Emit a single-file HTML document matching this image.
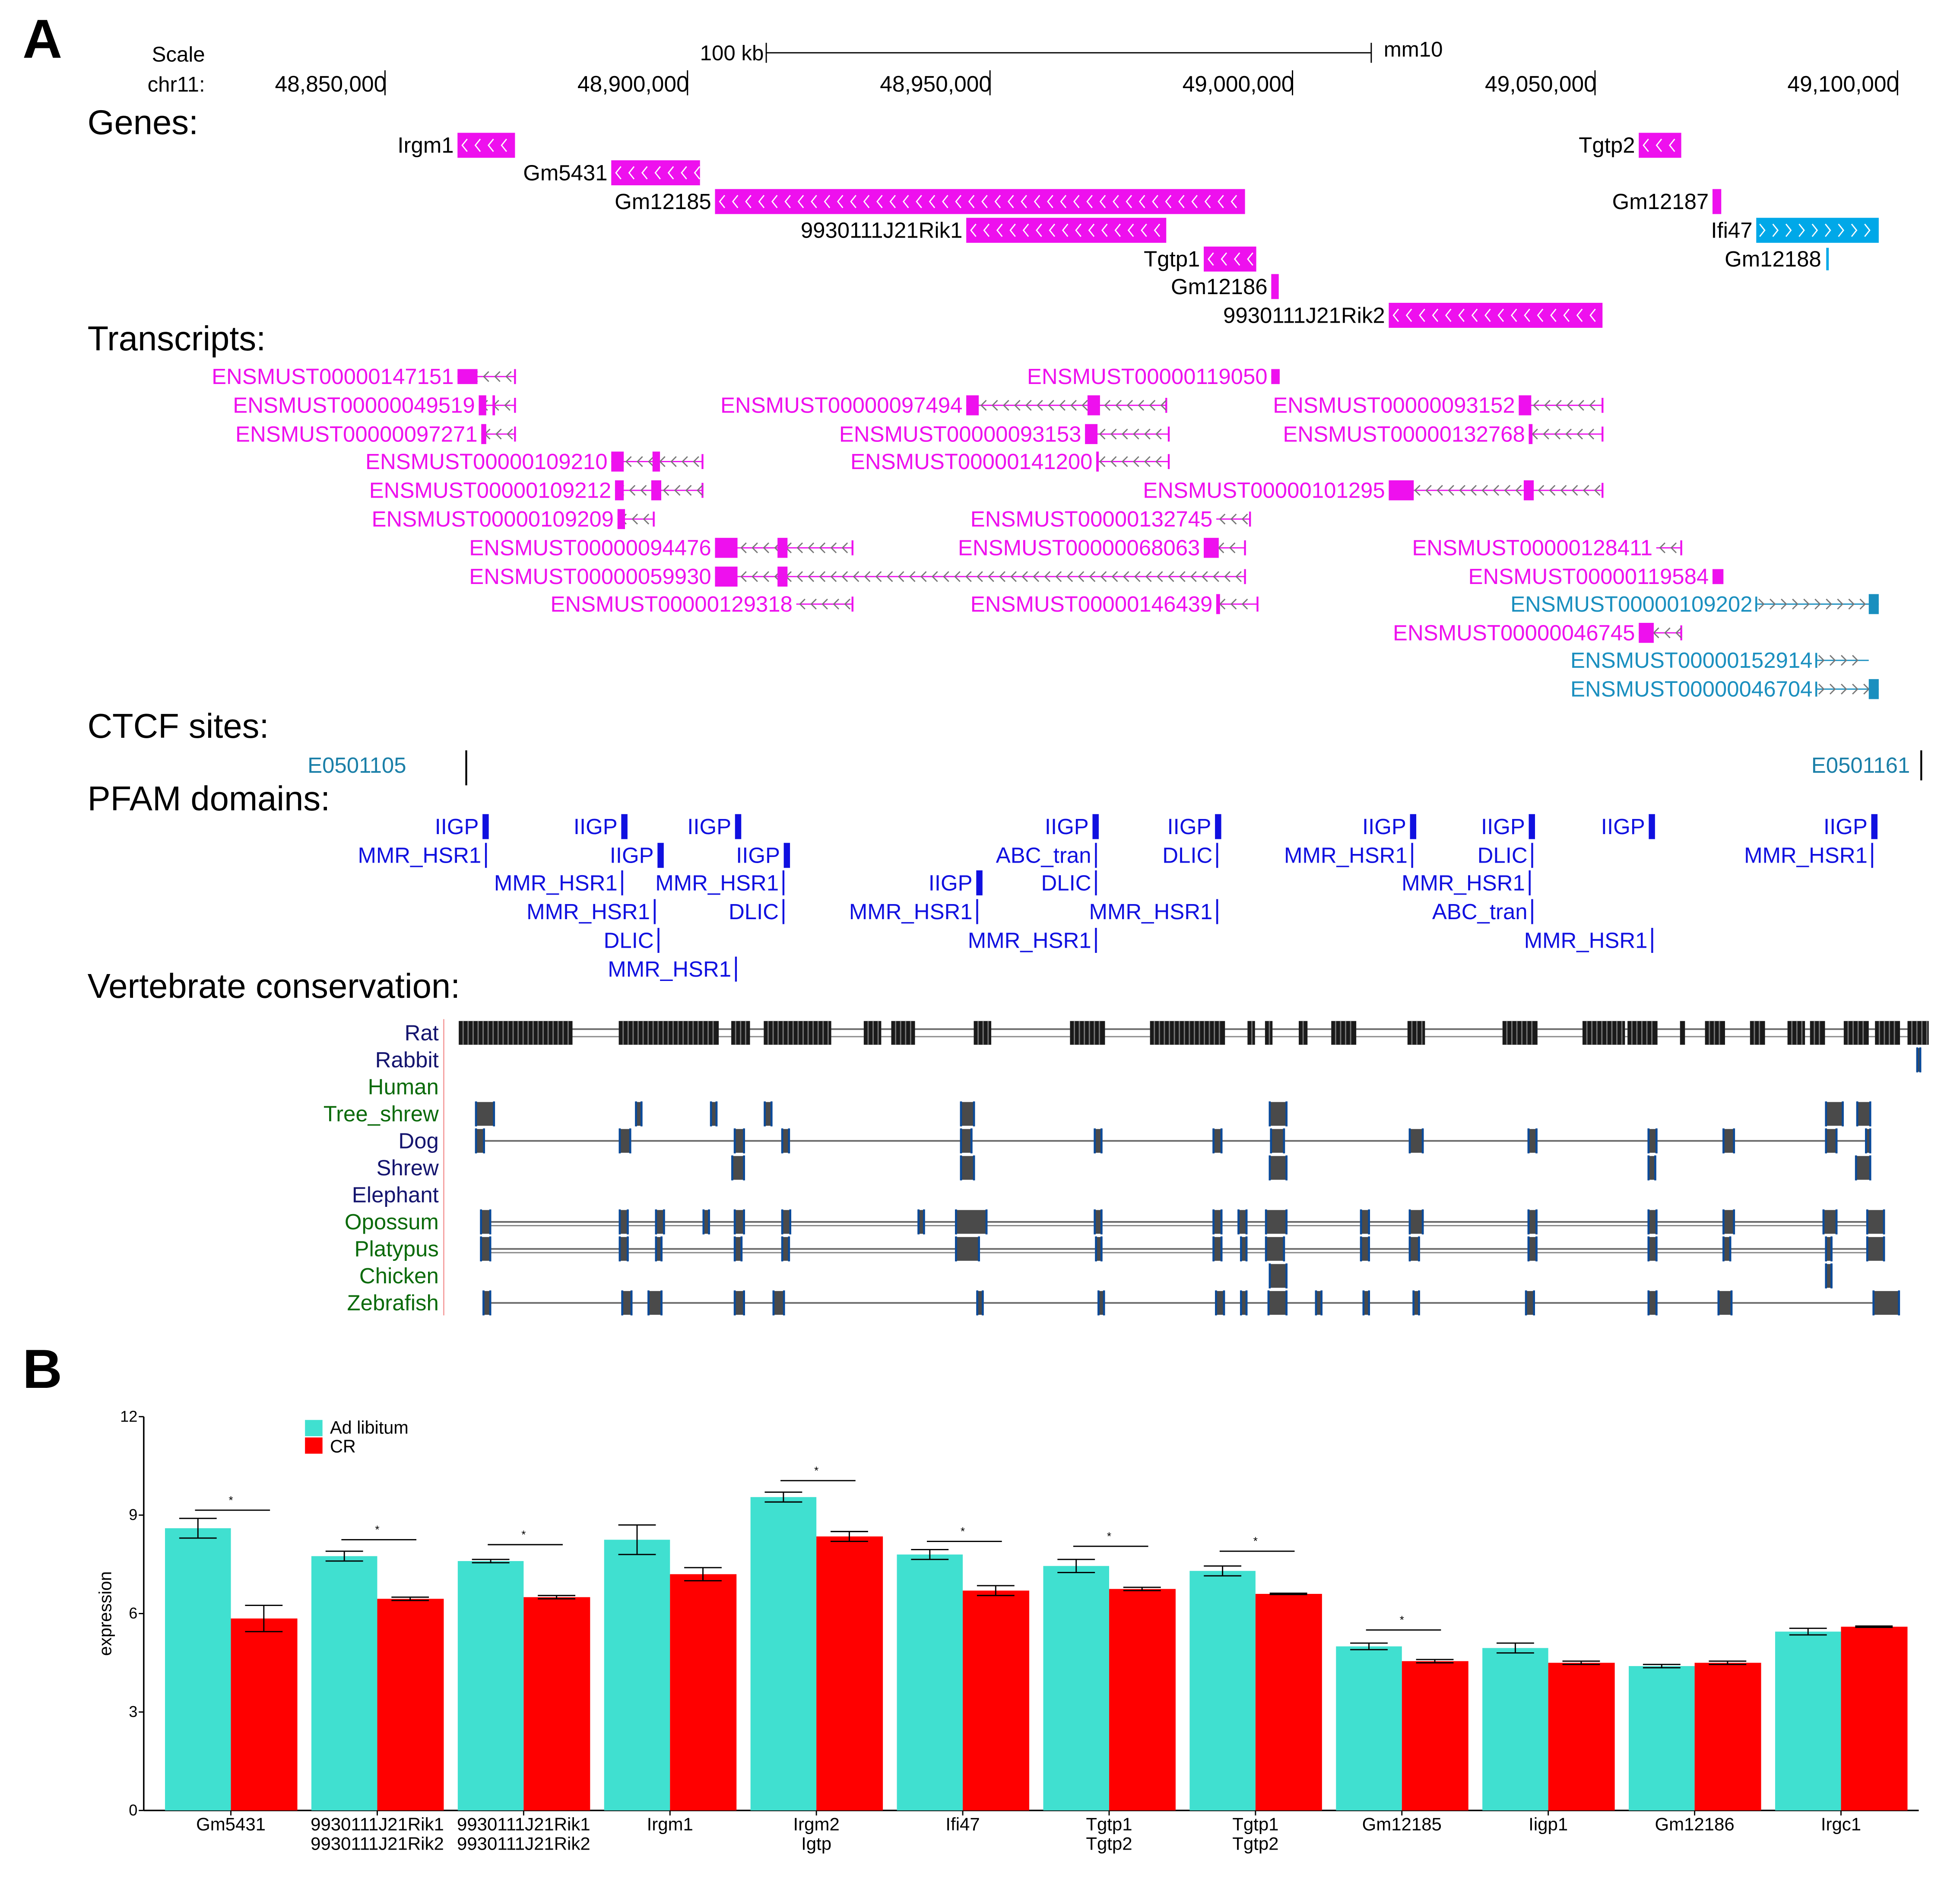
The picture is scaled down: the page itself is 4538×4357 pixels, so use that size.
<!DOCTYPE html>
<html><head><meta charset="utf-8"><style>
html,body{margin:0;padding:0;background:#fff}
svg{display:block}
text{font-family:"Liberation Sans",Arial,sans-serif}
</style></head><body>
<svg id="s" width="4538" height="4357" viewBox="0 0 1568 1505" xmlns="http://www.w3.org/2000/svg">
<rect width="1568" height="1505" fill="#fff"/>
<text x="18" y="46" font-size="44" font-weight="bold">A</text>
<text x="18" y="1110" font-size="44" font-weight="bold">B</text>
<text x="164" y="49" font-size="17" text-anchor="end">Scale</text>
<text x="164" y="73" font-size="17" text-anchor="end">chr11:</text>
<g>
<text x="611" y="48" font-size="17" text-anchor="end">100 kb</text>
<line x1="613" y1="42" x2="1097" y2="42" stroke="#000"/>
<line x1="613" y1="34" x2="613" y2="50" stroke="#000"/>
<line x1="1097" y1="34" x2="1097" y2="50" stroke="#000"/>
<text x="1107" y="45" font-size="17">mm10</text>
</g>
<g id="coord"></g>
<text x="70" y="107" font-size="27.5">Genes:</text>
<text x="70" y="280" font-size="27.5">Transcripts:</text>
<text x="70" y="590" font-size="27.5">CTCF sites:</text>
<text x="70" y="648" font-size="27.5">PFAM domains:</text>
<text x="70" y="798" font-size="27.5">Vertebrate conservation:</text>
<g id="genes"></g>
<g id="tx"></g>
<g>
<text x="325" y="618" font-size="17.6" fill="#1a7fa8" text-anchor="end">E0501105</text>
<line x1="373" y1="600" x2="373" y2="628" stroke="#000" stroke-width="1.5"/>
<text x="1528" y="618" font-size="17.6" fill="#1a7fa8" text-anchor="end">E0501161</text>
<line x1="1537" y1="600" x2="1537" y2="624" stroke="#000" stroke-width="1.5"/>
</g>
<g id="pfam"></g>
<g id="cons"></g>
<g id="chart"></g>
</svg>
<script>
const NS='http://www.w3.org/2000/svg';
const FS=17.6;
function mk(parent,tag,attrs,txt){const e=document.createElementNS(NS,tag);for(const k in attrs)e.setAttribute(k,attrs[k]);if(txt!==undefined)e.textContent=txt;parent.appendChild(e);return e;}
const $=id=>document.getElementById(id);
const coordTicks=[48850000,48900000,48950000,49000000,49050000,49100000];
const coordLabels=['48,850,000','48,900,000','48,950,000','49,000,000','49,050,000','49,100,000'];
const gx=p=>308+(p-48850000)*242/50000;
coordTicks.forEach((t,i)=>{const c=$('coord');
const tx=mk(c,'text',{x:gx(t)+1,y:73,'font-size':17.8,'text-anchor':'end'},coordLabels[i]);


mk(c,'line',{x1:gx(t),y1:56,x2:gx(t),y2:76,stroke:'#000'});});
function chev(g,x1,x2,y,dir,col,step,h){for(let x=x1+step/2;x<x2-2;x+=step){const d=dir<0?`M${x+2.5},${y-h} L${x-1.5},${y} L${x+2.5},${y+h}`:`M${x-2.5},${y-h} L${x+1.5},${y} L${x-2.5},${y+h}`;mk(g,'path',{d,fill:'none',stroke:col,'stroke-width':1});}}
const genes=[['Irgm1',366,412,116,-1],['Gm5431',489,560,138,-1],['Gm12185',572,996,161,-1],['9930111J21Rik1',773,933,184,-1],['Tgtp1',963,1005,207,-1],['Gm12186',1017,1023,229,-1],['9930111J21Rik2',1111,1282,252,-1],['Tgtp2',1311,1345,116,-1],['Gm12187',1370,1377,161,-1],['Ifi47',1405,1503,184,1],['Gm12188',1461,1463,207,1]];
genes.forEach(g=>{const G=mk($('genes'),'g',{});


const col=g[4]<0?'#ee10ee':'#00a8e8';
const h=g[0]==='Gm12188'?18:20;
mk(G,'rect',{x:g[1],y:g[3]-h/2,width:g[2]-g[1],height:h,fill:col});
if(g[2]-g[1]>20)chev(G,g[1],g[2],g[3],g[4],'#fff',10.5,5);
mk(G,'text',{x:g[0]==='Gm12188'?1457:g[1]-3,y:g[3]+6,'font-size':FS,'text-anchor':'end'},g[0]);});
const M='#ee10ee',C='#1a8fbf';
const txs=[['ENSMUST00000147151',301,366,412,M,[[366,16,12]]],['ENSMUST00000049519',324,383,412,M,[[383,6,16],[394,2,16]]],['ENSMUST00000097271',347,385,412,M,[[385,4,16]]],
['ENSMUST00000109210',369,489,562,M,[[489,10,16],[522,6,16]]],['ENSMUST00000109212',392,492,562,M,[[492,7,16],[521,8,16]]],['ENSMUST00000109209',415,494,523,M,[[494,6,16]]],
['ENSMUST00000094476',438,572,682,M,[[572,18,16],[622,8,16]]],['ENSMUST00000059930',461,572,996,M,[[572,18,16],[622,8,16]]],['ENSMUST00000129318',483,637,682,M,[]],
['ENSMUST00000119050',301,1017,1023,M,[[1017,6,12]]],['ENSMUST00000097494',324,773,933,M,[[773,10,16],[870,10,16]]],['ENSMUST00000093153',347,868,935,M,[[868,10,16]]],
['ENSMUST00000141200',369,877,935,M,[[877,2,16]]],['ENSMUST00000132745',415,973,1000,M,[]],['ENSMUST00000068063',438,963,996,M,[[963,12,16]]],['ENSMUST00000146439',483,973,1006,M,[[973,3,16]]],
['ENSMUST00000093152',324,1215,1282,M,[[1215,10,16]]],['ENSMUST00000132768',347,1223,1282,M,[[1223,3,16]]],['ENSMUST00000101295',392,1111,1282,M,[[1111,20,16],[1219,8,16]]],
['ENSMUST00000128411',438,1325,1345,M,[]],['ENSMUST00000119584',461,1370,1378,M,[[1370,8,12]]],['ENSMUST00000046745',506,1311,1345,M,[[1311,12,16]]],
['ENSMUST00000109202',483,1405,1503,C,[[1495,8,16]]],['ENSMUST00000152914',528,1453,1495,C,[]],['ENSMUST00000046704',551,1453,1503,C,[[1495,8,16]]]];
txs.forEach(t=>{const G=mk($('tx'),'g',{});


const y=t[1],dir=t[4]===C?1:-1;
mk(G,'line',{x1:t[2],y1:y,x2:t[3],y2:y,stroke:t[4],'stroke-width':1});
mk(G,'line',{x1:dir<0?t[3]:t[2],y1:y-6,x2:dir<0?t[3]:t[2],y2:y+6,stroke:t[4],'stroke-width':1.5});
chev(G,t[2],t[3],y,dir,'#777',9,4);
t[5].forEach(e=>mk(G,'rect',{x:e[0],y:y-e[2]/2,width:e[1],height:e[2],fill:t[4]}));
mk(G,'text',{x:t[2]-3,y:y+6,'font-size':FS,'text-anchor':'end',fill:t[4]},t[0]);});
const pf=[['IIGP',385,661],['IIGP',496,661],['IIGP',587,661],['MMR_HSR1',387,684],['IIGP',525,684],['IIGP',626,684],['MMR_HSR1',496,706],['MMR_HSR1',625,706],['MMR_HSR1',522,729],['DLIC',625,729],['DLIC',525,752],['MMR_HSR1',587,775],
['IIGP',873,661],['IIGP',971,661],['ABC_tran',875,684],['DLIC',972,684],['IIGP',780,706],['DLIC',875,706],['MMR_HSR1',780,729],['MMR_HSR1',972,729],['MMR_HSR1',875,752],
['IIGP',1127,661],['IIGP',1222,661],['IIGP',1318,661],['IIGP',1496,661],['MMR_HSR1',1128,684],['DLIC',1224,684],['MMR_HSR1',1496,684],['MMR_HSR1',1222,706],['ABC_tran',1224,729],['MMR_HSR1',1320,752]];
pf.forEach(p=>{const G=mk($('pfam'),'g',{});


const thick=p[0]==='IIGP';
mk(G,'rect',{x:p[1]+1,y:p[2]-10,width:thick?5:1.5,height:20,fill:'#1010e0'});
mk(G,'text',{x:p[1]-2,y:p[2]+6,'font-size':FS,'text-anchor':'end',fill:'#1010e0'},p[0]);});
const species=['Rat','Rabbit','Human','Tree_shrew','Dog','Shrew','Elephant','Opossum','Platypus','Chicken','Zebrafish'];
const spColor=['#14146e','#14146e','#0a6a0a','#0a6a0a','#14146e','#14146e','#14146e','#0a6a0a','#0a6a0a','#0a6a0a','#0a6a0a'];
const noLine=['Shrew','Chicken','Tree_shrew','Rabbit'];
const blocks={
Rat:[[367,458],[495,575],[585,600],[611,665],[691,705],[713,732],[779,793],[856,884],[920,980],[998,1004],[1012,1018],[1039,1046],[1065,1085],[1126,1140],[1202,1230],[1266,1300],[1302,1326],[1344,1348],[1364,1380],[1400,1412],[1430,1444],[1448,1460],[1475,1495],[1500,1520],[1526,1543]],
Rabbit:[[1533,1537]],Human:[],
Tree_shrew:[[380,396],[508,514],[568,574],[611,618],[768,780],[1015,1030],[1460,1475],[1485,1497]],
Dog:[[380,388],[495,505],[587,596],[625,632],[768,778],[875,882],[970,978],[1016,1028],[1127,1139],[1222,1230],[1318,1326],[1378,1388],[1460,1470],[1492,1497]],
Shrew:[[585,596],[768,780],[1015,1030],[1318,1325],[1484,1497]],Elephant:[],
Opossum:[[384,393],[495,503],[524,532],[562,568],[587,596],[625,633],[734,740],[764,790],[875,882],[970,978],[990,998],[1012,1030],[1088,1096],[1127,1139],[1222,1230],[1318,1326],[1378,1388],[1458,1470],[1493,1508]],
Platypus:[[384,393],[495,503],[524,530],[587,594],[625,632],[764,784],[876,882],[970,978],[992,998],[1012,1028],[1088,1096],[1127,1136],[1222,1230],[1318,1326],[1378,1385],[1460,1466],[1493,1508]],
Chicken:[[1015,1030],[1460,1466]],
Zebrafish:[[386,393],[497,506],[518,530],[587,596],[618,628],[781,787],[878,884],[972,980],[992,998],[1014,1030],[1052,1058],[1090,1096],[1130,1136],[1220,1228],[1318,1326],[1374,1386],[1498,1520]]};
const cy0=826,cdy=21.6;
mk($('cons'),'line',{x1:355,y1:815,x2:355,y2:1052,stroke:'#f4a0a0','stroke-width':1});
species.forEach((sp,i)=>{const G=mk($('cons'),'g',{});


const y=cy0+i*cdy;
mk(G,'text',{x:351,y:y+6,'font-size':FS,'text-anchor':'end',fill:spColor[i]},sp);
const b=blocks[sp];
if(noLine.indexOf(sp)===-1)for(let k=0;k<b.length-1;k++){mk(G,'line',{x1:b[k][1],y1:y-(sp==='Rat'?3:0),x2:b[k+1][0],y2:y-(sp==='Rat'?3:0),stroke:'#666','stroke-width':1.3});
 if(sp==='Rat'||sp==='Opossum'||sp==='Platypus')mk(G,'line',{x1:b[k][1],y1:y+3,x2:b[k+1][0],y2:y+3,stroke:'#888','stroke-width':1});}
b.forEach(bb=>{const w=bb[1]-bb[0];
mk(G,'rect',{x:bb[0],y:y-9.5,width:w,height:19,fill:sp==='Rat'?'#1a1a1a':'#4a4a4a'});
if(sp!=='Rat'){mk(G,'rect',{x:bb[0],y:y-10,width:1.6,height:20,fill:'#0a4a9a'});mk(G,'rect',{x:bb[1]-1.6,y:y-10,width:1.6,height:20,fill:'#0a4a9a'});}
else for(let x=bb[0]+3;x<bb[1]-1;x+=4)mk(G,'rect',{x:x,y:y-9.5,width:1,height:19,fill:'#777'});});});
</script>
<script>
const categories=['Gm5431','9930111J21Rik1|9930111J21Rik2','9930111J21Rik1|9930111J21Rik2','Irgm1','Irgm2|Igtp','Ifi47','Tgtp1|Tgtp2','Tgtp1|Tgtp2','Gm12185','Iigp1','Gm12186','Irgc1'];
const adLib=[8.6,7.75,7.6,8.25,9.55,7.8,7.45,7.3,5.0,4.95,4.4,5.45];
const adLibErr=[0.3,0.15,0.05,0.45,0.15,0.15,0.2,0.15,0.1,0.15,0.05,0.1];
const crVals=[5.85,6.45,6.5,7.2,8.35,6.7,6.75,6.6,4.55,4.5,4.5,5.6];
const crErr=[0.4,0.05,0.05,0.2,0.15,0.15,0.05,0.02,0.05,0.05,0.05,0.02];
const sigLevel=[9.15,8.25,8.1,null,10.05,8.2,8.05,7.9,5.5,null,null,null];
const yTicks=[0,3,6,9,12];
(function(){
const g=document.getElementById('chart');
const y0=1448,pu=26.25,ax=115,grp=117.1,x0=132,bw=52.7;
const Y=v=>y0-v*pu;
const X=i=>x0+i*grp;
mk(g,'line',{x1:ax,y1:Y(12),x2:ax,y2:y0,stroke:'#000','stroke-width':1.2});
mk(g,'line',{x1:ax,y1:y0,x2:1535,y2:y0,stroke:'#000','stroke-width':1.2});
yTicks.forEach(t=>{mk(g,'line',{x1:ax-4,y1:Y(t),x2:ax,y2:Y(t),stroke:'#000'});
const tl=mk(g,'text',{x:ax-5,y:Y(t)+4,'font-size':12.5,'text-anchor':'end'},String(t));

});
const yt=mk(g,'text',{x:89,y:Y(6),'font-size':14,'text-anchor':'middle',transform:`rotate(-90 89 ${Y(6)})`},'expression');


categories.forEach((c,i)=>{
const x=X(i);
const b1=mk(g,'rect',{x:x,y:Y(adLib[i]),width:bw,height:adLib[i]*pu,fill:'#40E0D0'});


const b2=mk(g,'rect',{x:x+bw,y:Y(crVals[i]),width:bw+0.5,height:crVals[i]*pu,fill:'#FF0000'});


[[x+bw/2,adLib[i],adLibErr[i]],[x+bw*1.5,crVals[i],crErr[i]]].forEach(e=>{
mk(g,'line',{x1:e[0],y1:Y(e[1]+e[2]),x2:e[0],y2:Y(e[1]-e[2]),stroke:'#000'});
mk(g,'line',{x1:e[0]-15,y1:Y(e[1]+e[2]),x2:e[0]+15,y2:Y(e[1]+e[2]),stroke:'#000'});
mk(g,'line',{x1:e[0]-15,y1:Y(e[1]-e[2]),x2:e[0]+15,y2:Y(e[1]-e[2]),stroke:'#000'});});
mk(g,'line',{x1:x+bw,y1:y0,x2:x+bw,y2:y0+4,stroke:'#000'});
if(sigLevel[i]!==null){mk(g,'line',{x1:x+24,y1:Y(sigLevel[i]),x2:x+84,y2:Y(sigLevel[i]),stroke:'#000'});
mk(g,'text',{x:x+bw,y:Y(sigLevel[i])-5,'font-size':9,'text-anchor':'middle'},'*');}
c.split('|').forEach((l,k)=>{const t=mk(g,'text',{x:x+bw,y:y0+16+k*15.5,'font-size':14.5,'text-anchor':'middle'},l);

});});
const lg=mk(g,'g',{});


mk(lg,'rect',{x:244,y:Y(11.9),width:14,height:13,fill:'#40E0D0'});
mk(lg,'text',{x:264,y:Y(11.9)+11,'font-size':14.3},'Ad libitum');
mk(lg,'rect',{x:244,y:Y(11.9)+14,width:14,height:13,fill:'#FF0000'});
mk(lg,'text',{x:264,y:Y(11.9)+26,'font-size':14.3},'CR');
})();
</script>
</body></html>
